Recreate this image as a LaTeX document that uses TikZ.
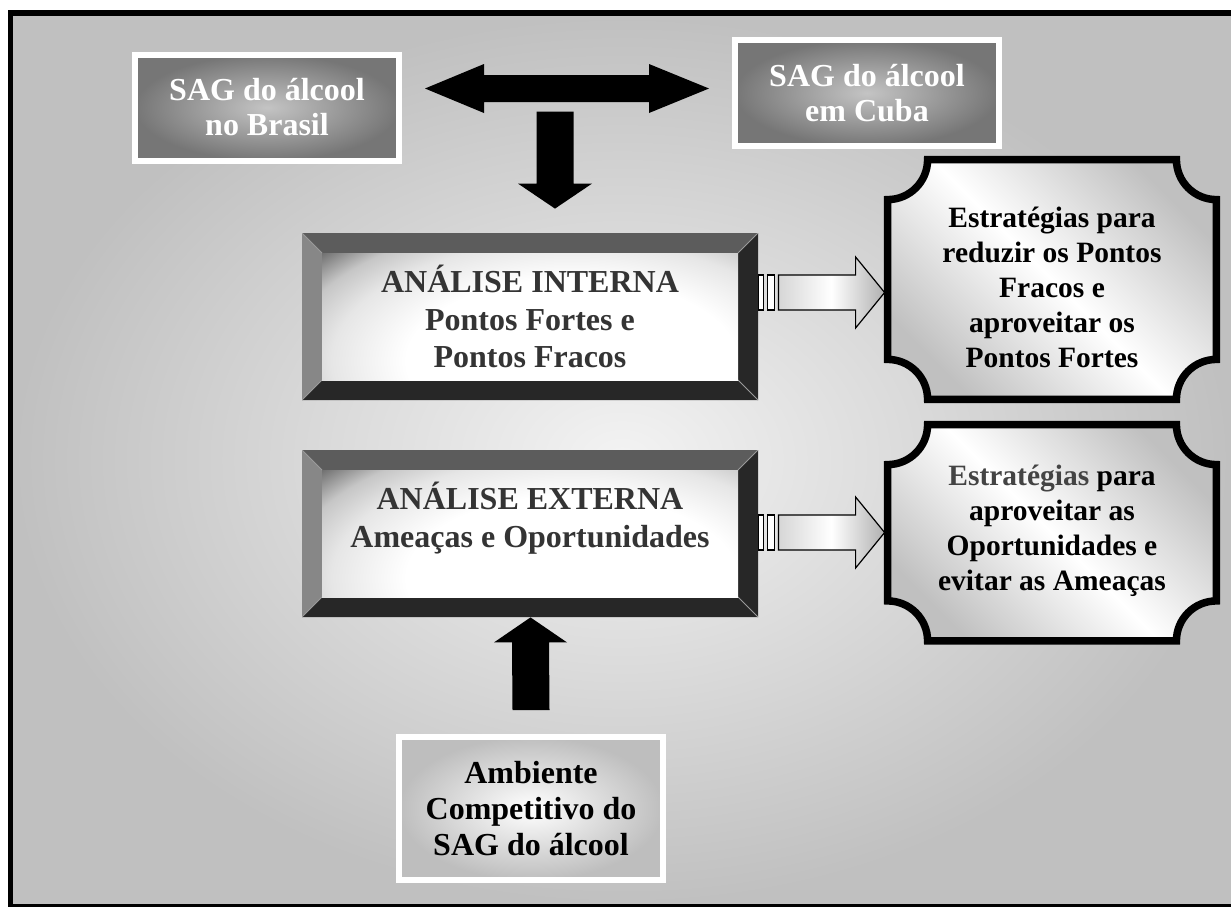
\documentclass[tikz,border=0pt]{standalone}
\usepackage{fontspec}
\setmainfont{Liberation Serif}
\usetikzlibrary{calc}

% palette
\definecolor{bgedge}{HTML}{C0C0C0}
\definecolor{bgmid}{HTML}{F3F3F3}
\definecolor{darkedge}{HTML}{767676}
\definecolor{darkmid}{HTML}{C4C4C4}
\definecolor{lightedge}{HTML}{BEBEBE}
\definecolor{bevtop}{HTML}{5C5C5C}
\definecolor{bevleft}{HTML}{878787}
\definecolor{bevdark}{HTML}{272727}
\definecolor{bevseam}{HTML}{9A9A9A}
\definecolor{facedark}{HTML}{575757}
\definecolor{facemid}{HTML}{C6C6C6}
\definecolor{facelight}{HTML}{E6E6E6}
\definecolor{bevtext}{HTML}{343434}
\definecolor{plaqueedge}{HTML}{C0C0C0}
\definecolor{arrowlight}{HTML}{D6D6D6}
\definecolor{arrowdark}{HTML}{B0B0B0}
\definecolor{estrgray}{HTML}{444444}

\pgfdeclarelayer{backdrop}
\pgfdeclarelayer{plates}
\pgfsetlayers{backdrop,plates,main}

% off-centre glow on the bevelled panels
\pgfdeclareradialshading{bevelface}{\pgfpoint{0bp}{0bp}}{%
  color(0bp)=(white); color(10.6bp)=(white); color(15.4bp)=(facelight);
  color(18.3bp)=(facemid); color(22bp)=(facedark); color(50bp)=(facedark)}

\newcommand\sagfont{\fontsize{16pt}{17.5pt}\selectfont\bfseries}
\newcommand\bevfont{\fontsize{16pt}{18.75pt}\selectfont\bfseries}
\newcommand\stratfont{\fontsize{14.75pt}{17.5pt}\selectfont\bfseries}
\newcommand\ambfont{\fontsize{16pt}{18pt}\selectfont\bfseries}

\begin{document}
\begin{tikzpicture}[x=0.5pt, y=-0.5pt,
  sagbox/.style={draw=white, line width=3pt, minimum width=132pt,
    minimum height=53pt, inner sep=0pt, align=center, text=white,
    font=\sagfont,
    path picture={\shade[inner color=darkmid, outer color=darkedge]
      (path picture bounding box.south west) rectangle
      (path picture bounding box.north east);}},
  ambbox/.style={draw=white, line width=3pt, minimum width=132pt,
    minimum height=71.5pt, inner sep=0pt, align=center, text=black,
    font=\ambfont,
    path picture={\shade[inner color=white, outer color=lightedge]
      (path picture bounding box.south west) rectangle
      (path picture bounding box.north east);}},
  bevelbox/.style={minimum width=228pt, minimum height=83.5pt,
    inner sep=0pt, align=center, text=bevtext, font=\bevfont,
    path picture={
      \coordinate (bo1) at (path picture bounding box.north west);
      \coordinate (bo2) at (path picture bounding box.south east);
      \coordinate (bi1) at ($(bo1)+(10pt,-10pt)$);
      \coordinate (bi2) at ($(bo2)+(-10pt,10pt)$);
      \fill[bevtop] (bo1) -- (bo1 -| bo2) -- (bi1 -| bi2) -- (bi1) -- cycle;
      \fill[bevleft] (bo1) -- (bi1) -- (bi1 |- bi2) -- (bo1 |- bo2) -- cycle;
      \fill[bevdark] (bo1 -| bo2) -- (bo2) -- (bi2) -- (bi1 -| bi2) -- cycle;
      \fill[bevdark] (bo1 |- bo2) -- (bi1 |- bi2) -- (bi2) -- (bo2) -- cycle;
      \draw[bevseam, line width=0.4pt] (bo1) -- (bi1) (bo1 -| bo2) -- (bi1 -| bi2)
        (bo2) -- (bi2) (bo1 |- bo2) -- (bi1 |- bi2);
      \begin{scope}
        \clip (bi1) rectangle (bi2);
        \fill[facedark] (bi1) rectangle (bi2);
        \shade[shading=bevelface] ($(bi1)+(124.8pt,-54pt)$)
          ellipse [x radius=195pt, y radius=97.5pt];
      \end{scope}}},
  plaque/.style={minimum width=164pt, inner sep=0pt},
  plaquetext/.style={align=center, inner sep=0pt, text=black, font=\stratfont},
  plaqueshape/.style={insert path={
      ($(#1.north west)+(20pt,0pt)$) -- ($(#1.north east)+(-20pt,0pt)$)
      arc[start angle=180, end angle=270, radius=20pt]
      -- ($(#1.south east)+(0pt,20pt)$)
      arc[start angle=90, end angle=180, radius=20pt]
      -- ($(#1.south west)+(20pt,0pt)$)
      arc[start angle=0, end angle=90, radius=20pt]
      -- ($(#1.north west)+(0pt,-20pt)$)
      arc[start angle=270, end angle=360, radius=20pt] -- cycle}},
  blockarrow/.style={fill=black},
  barstyle/.style={draw=black, fill=white, line width=0.6pt},
  hollowarrow/.style={draw=black, line width=0.6pt, left color=arrowlight,
    right color=arrowdark, middle color=white}
]
\useasboundingbox (0,0) rectangle (1231,906);

% backdrop and frame
\begin{pgfonlayer}{backdrop}
  \fill[white] (0,0) rectangle (1231,906);
  \shade[inner color=bgmid, outer color=bgedge] (13,16) rectangle (1231,904);
  \draw[line width=2.75pt] (10.5,13) rectangle (1240,906.5);
\end{pgfonlayer}

% boxes
\node[sagbox] (brasil) at (267,107.5) {SAG do álcool\\no Brasil};
\node[sagbox] (cuba) at (867,93) {SAG do álcool\\em Cuba};

\node[bevelbox] (interna) at (530,316.5)
  {ANÁLISE INTERNA\\Pontos Fortes e\\Pontos Fracos};
\node[bevelbox] (externa) at (530,533.5)
  {ANÁLISE EXTERNA\\Ameaças e Oportunidades\\\mbox{}};

\node[plaque, minimum height=119.5pt] (plaqA) at (1052,279.5) {};
\node[plaque, minimum height=107.75pt] (plaqB) at (1052,532.75) {};
\node[plaquetext] (stratA) at (1052,287)
  {Estratégias para\\reduzir os Pontos\\Fracos e\\aproveitar os\\Pontos Fortes};
\node[plaquetext] (stratB) at (1052,530.5)
  {{\color{estrgray}Estratégias} para\\aproveitar as\\Oportunidades e\\evitar as Ameaças};

\node[ambbox] (ambiente) at (531,808.5)
  {Ambiente\\Competitivo do\\SAG do álcool};

% scalloped plates behind the strategy texts
\begin{pgfonlayer}{plates}
  \foreach \p in {plaqA,plaqB}{
    \shade[top color=plaqueedge, bottom color=plaqueedge, middle color=white,
      shading angle=-45, plaqueshape=\p];
    \draw[line width=3.75pt, plaqueshape=\p];
  }
\end{pgfonlayer}

% double arrow between the two SAG boxes
\coordinate (dL) at ($(brasil.east)+(11.5pt,9.5pt)$);
\coordinate (dR) at ($(cuba.west)+(-11.5pt,2.25pt)$);
\fill[blockarrow] (dL) -- ($(dL)+(29.5pt,12.25pt)$) -- ($(dL)+(29.5pt,6.75pt)$)
  -- ($(dR)+(-30pt,6.75pt)$) -- ($(dR)+(-30pt,12.25pt)$) -- (dR)
  -- ($(dR)+(-30pt,-12.25pt)$) -- ($(dR)+(-30pt,-6.75pt)$)
  -- ($(dL)+(29.5pt,-6.75pt)$) -- ($(dL)+(29.5pt,-12.25pt)$) -- cycle;

% arrow down into the internal analysis
\coordinate (dTip) at ($(interna.north)+(12.5pt,12pt)$);
\coordinate (dTop) at ($(interna.north)+(12.5pt,60.5pt)$);
\fill[blockarrow] ($(dTop)+(-9.25pt,0pt)$) -- ($(dTip)+(-9.25pt,12.5pt)$)
  -- ($(dTip)+(-18.5pt,12.5pt)$) -- (dTip) -- ($(dTip)+(18.5pt,12.5pt)$)
  -- ($(dTip)+(9.25pt,12.5pt)$) -- ($(dTop)+(9.25pt,0pt)$) -- cycle;

% arrow up from the competitive environment
\coordinate (uTip) at ($(externa.south)+(0.25pt,0pt)$);
\coordinate (uBase) at ($(ambiente.north)+(0pt,12pt)$);
\fill[blockarrow] ($(uBase)+(-9.25pt,0pt)$) -- ($(uTip)+(-9.25pt,-12.5pt)$)
  -- ($(uTip)+(-18.25pt,-12.5pt)$) -- (uTip) -- ($(uTip)+(18.25pt,-12.5pt)$)
  -- ($(uTip)+(9.25pt,-12.5pt)$) -- ($(uBase)+(9.25pt,0pt)$) -- cycle;

% striped arrows towards the strategies
\coordinate (sA) at ($(interna.east)+(0pt,12pt)$);
\coordinate (tA) at ($(sA -| plaqA.west)+(-1.5pt,0pt)$);
\coordinate (sB) at ($(externa.east)+(0pt,0.5pt)$);
\coordinate (tB) at ($(sB -| plaqB.west)+(-1.5pt,0pt)$);
\foreach \s/\t in {sA/tA, sB/tB}{
  \draw[barstyle] ($(\s)+(0pt,-8.75pt)$) rectangle ($(\s)+(2.5pt,8.75pt)$);
  \draw[barstyle] ($(\s)+(4.5pt,-8.75pt)$) rectangle ($(\s)+(8pt,8.75pt)$);
  \shadedraw[hollowarrow] ($(\s)+(10pt,8.75pt)$) -- ($(\t)+(-14.5pt,8.75pt)$)
    -- ($(\t)+(-14.5pt,17.75pt)$) -- (\t) -- ($(\t)+(-14.5pt,-17.75pt)$)
    -- ($(\t)+(-14.5pt,-8.75pt)$) -- ($(\s)+(10pt,-8.75pt)$) -- cycle;
}
\end{tikzpicture}
\end{document}
